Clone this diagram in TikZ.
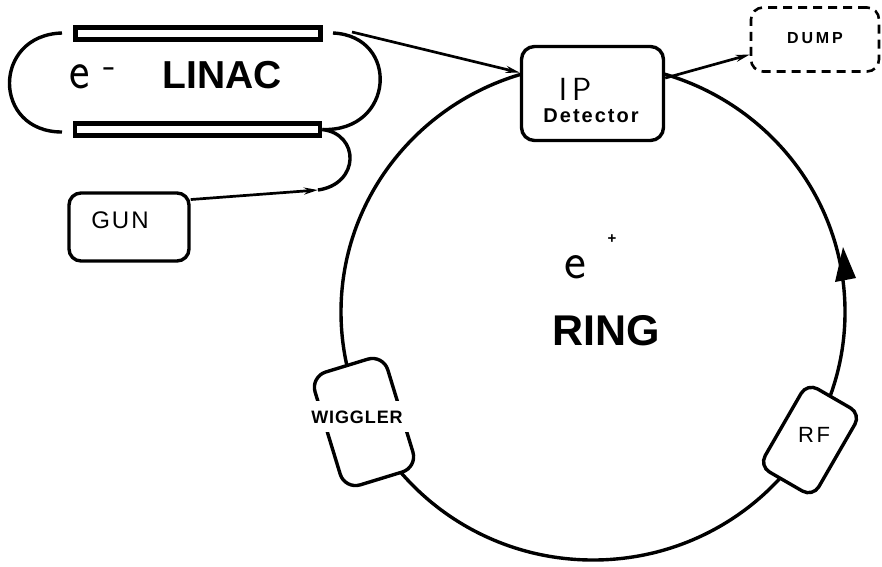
\documentclass[tikz,border=0pt]{standalone}
\usepackage{fontspec}
\setmainfont{Liberation Sans}
\usetikzlibrary{arrows.meta}
\newcommand{\fsz}[1]{\fontsize{#1}{#1}\selectfont}
\newcommand{\ls}[1]{\addfontfeature{LetterSpace=#1}}
\begin{document}
\begin{tikzpicture}[x=1pt,y=-1pt,
  ringline/.style={line width=3.4pt},
  rbox/.style={draw, line width=3.4pt, rounded corners=13pt, fill=white, inner sep=0pt},
  linacbar/.style={draw, line width=4.6pt, fill=white, minimum width=245pt, minimum height=12.5pt, inner sep=0pt},
  arr/.style={line width=2.7pt, -{Stealth[length=14pt,width=7pt]}},
  txt/.style={inner sep=0pt, anchor=base},
]
\useasboundingbox (0,0) rectangle (882,566);

% ring
\draw[ringline] (593,312) ellipse [x radius=252, y radius=248];
\fill (843,247) -- (835,282) -- (856,278) -- cycle;

% LINAC
\node[linacbar] (topbar) at (198,33.5) {};
\node[linacbar] (botbar) at (197.5,129.5) {};
\coordinate (la1) at (62,33);
\coordinate (la2) at (62,132);
\coordinate (ra1) at (333,33);
\draw[ringline] (la1) .. controls (-8,35) and (-8,132) .. (la2);
\draw[ringline] (ra1) .. controls (400,36) and (395,132) .. (botbar.east);

% boxes
\node[rbox, minimum width=142pt, minimum height=94pt] (ip) at (592.5,93.5) {};
\node[draw, dashed, dash pattern=on 9pt off 6pt, line width=2.6pt, rounded corners=12pt,
      minimum width=128pt, minimum height=64pt, inner sep=0pt] (dump) at (815,39.5) {};
\node[rbox, minimum width=120pt, minimum height=68pt, rounded corners=12pt] (gun) at (129,227) {};
\node[rbox, minimum width=76pt, minimum height=118pt, rotate=17, rounded corners=16pt] (wig) at (364,422) {};
\node[rbox, minimum width=62pt, minimum height=96pt, rotate=-30, rounded corners=12pt] (rf) at (810,440) {};

% connectors
\coordinate (lo) at (352,32);
\coordinate (gunin) at (318,190);
\draw[arr] (lo) -- (ip.164);
\draw[arr] (ip.12) -- (dump.193);
\draw[arr] (gun.24) -- (gunin);
\draw[ringline] (gunin) .. controls (360,184) and (360,134) .. (botbar.east);

% texts
\node[txt] (ellinac) at (80,88) {\sffamily\fsz{54}\scalebox{0.9}[1]{e}};
\node[txt] (minus) at (110,77) {\sffamily\fsz{40}-};
\node[txt] (linac) at (222,88) {\bfseries\fsz{39}LINAC};
\node[txt] (ering) at (575,278) {\sffamily\fsz{52}e};
\node[inner sep=0pt] (plus) at (612,239) {\bfseries\fsz{15}+};
\node[txt] (ring) at (606,345) {\bfseries\fsz{43}RING};
\node[txt] (iptext) at (575,100) {\sffamily\fsz{32}I\hspace{5pt}P};
\node[txt] (det) at (591,122) {\bfseries\fsz{20}\ls{10}Detector};
\node[txt] (dumptext) at (815,43) {\bfseries\fsz{16}\ls{18}DUMP};
\node[txt] (guntext) at (120,228) {\fsz{24}\ls{8}GUN};
\node[txt, fill=white, inner xsep=6pt, inner ysep=9pt] (wigtext) at (357,423) {\bfseries\fsz{18}\ls{5}WIGGLER};
\node[txt] (rftext) at (814,442) {\fsz{22}\ls{12}RF};
\end{tikzpicture}
\end{document}
